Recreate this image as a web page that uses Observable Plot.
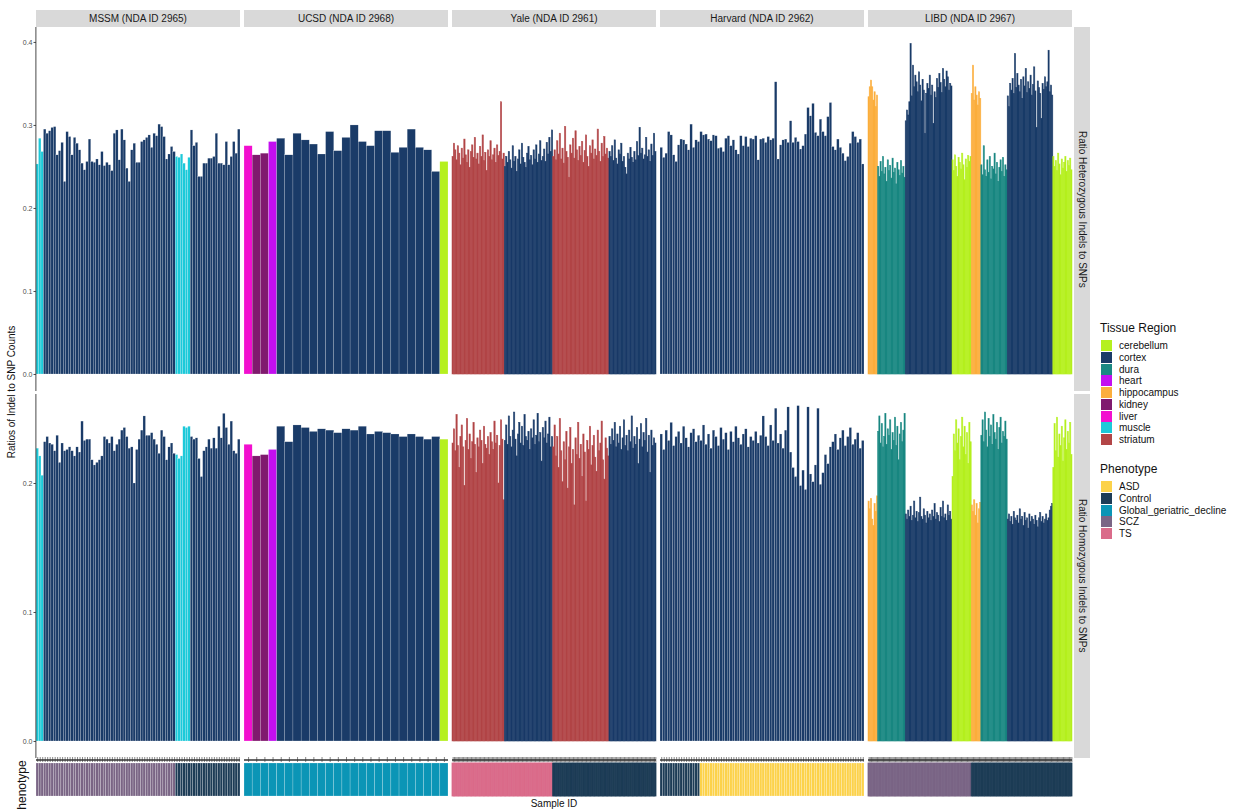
<!DOCTYPE html>
<html><head><meta charset="utf-8">
<script src="https://cdn.jsdelivr.net/npm/d3@7"></script>
<script src="https://cdn.jsdelivr.net/npm/@observablehq/plot@0.6"></script>
<style>
body{margin:0;background:#fff;font-family:"Liberation Sans",Arial,sans-serif;}
#wrap{position:relative;width:1238px;height:809px;overflow:hidden;background:#fff;}
.abs{position:absolute;}
.strip{position:absolute;background:#d9d9d9;color:#1a1a1a;font-size:10px;display:flex;align-items:center;justify-content:center;white-space:nowrap;}
.vstrip{writing-mode:vertical-rl;}
.ltitle{position:absolute;font-size:12px;color:#111;white-space:nowrap;}
.lkey{position:absolute;width:11px;height:11px;}
.llab{position:absolute;font-size:10px;color:#111;white-space:nowrap;line-height:11px;}
</style></head><body><div id="wrap"></div><script>
const sites = ["MSSM (NDA ID 2965)","UCSD (NDA ID 2968)","Yale (NDA ID 2961)","Harvard (NDA ID 2962)","LIBD (NDA ID 2967)"];
const tissues = ["cerebellum","cortex","dura","heart","hippocampus","kidney","liver","muscle","striatum"];
const tissueColors = ["#b5f01f","#1a3b68","#1a8883","#c30ff0","#fcae3d","#801a6e","#f20fcf","#1cc9d9","#b24547"];
const phenotypes = ["ASD","Control","Global_geriatric_decline","SCZ","TS"];
const phenoColors = ["#fcd24a","#1d3c56","#0b95b6","#7a6585","#da6b8a"];
const panelLabels = ["Ratio Heterozygous Indels to SNPs","Ratio Homozygous Indels to SNPs"];
const hetTicks = [0,0.1,0.2,0.3,0.4];
const homTicks = [0,0.1,0.2];

// MSSM
const mssmTissue = [["muscle",3],["cortex",53],["muscle",6],["cortex",20]];
const mssmPheno = [["SCZ",56],["Control",26]];
const mssmHet = [0.253,0.284,0.268,
0.295,0.290,0.293,0.297,0.298,0.264,0.269,0.279,0.232,0.292,0.286,0.264,0.285,0.278,0.270,0.254,0.246,0.256,0.283,0.256,0.255,0.259,0.252,0.268,0.251,0.255,0.252,0.245,0.290,0.294,0.258,0.295,0.282,0.248,0.232,0.270,0.278,0.255,0.255,0.280,0.282,0.285,0.288,0.273,0.290,0.287,0.301,0.298,0.286,0.259,0.265,0.274,0.268,
0.262,0.261,0.265,0.254,0.246,0.261,
0.294,0.275,0.279,0.238,0.238,0.254,0.254,0.260,0.260,0.262,0.290,0.254,0.254,0.252,0.280,0.252,0.262,0.280,0.266,0.295];
const mssmHom = [0.227,0.221,0.206,
0.232,0.236,0.231,0.230,0.225,0.237,0.216,0.231,0.225,0.226,0.228,0.225,0.221,0.228,0.224,0.248,0.233,0.234,0.234,0.218,0.214,0.216,0.218,0.221,0.236,0.234,0.231,0.236,0.225,0.230,0.234,0.241,0.243,0.236,0.227,0.228,0.200,0.226,0.234,0.241,0.252,0.237,0.237,0.239,0.234,0.230,0.223,0.241,0.236,0.218,0.228,0.231,0.223,
0.222,0.219,0.221,0.244,0.243,0.244,
0.236,0.234,0.235,0.219,0.205,0.225,0.228,0.234,0.227,0.235,0.227,0.244,0.235,0.254,0.243,0.230,0.248,0.225,0.223,0.234];

// UCSD
const ucsdTissue = [["liver",1],["kidney",2],["heart",1],["cortex",20],["cerebellum",1]];
const ucsdPheno = [["Global_geriatric_decline",25]];
const ucsdHet = [0.275,0.264,0.266,0.280,0.284,0.264,0.290,0.282,0.277,0.265,0.292,0.269,0.285,0.300,0.280,0.275,0.293,0.293,0.267,0.273,0.295,0.273,0.270,0.244,0.256];
const ucsdHom = [0.230,0.221,0.222,0.226,0.244,0.232,0.245,0.243,0.240,0.242,0.241,0.239,0.242,0.241,0.244,0.238,0.240,0.239,0.238,0.236,0.238,0.236,0.234,0.236,0.234];

// Yale
const yaleTissue = [["striatum",40],["cortex",37],["striatum",43],["cortex",36]];
const yalePheno = [["TS",77],["Control",79]];
const yaleHet = [
0.262,0.278,0.270,0.258,0.275,0.266,0.252,0.272,0.260,0.283,0.264,0.255,0.270,0.249,0.268,0.276,0.261,0.285,0.259,0.266,0.253,0.274,0.262,0.288,0.257,0.267,0.245,0.270,0.262,0.281,0.258,0.264,0.272,0.255,0.276,0.263,0.268,0.328,0.259,0.266,
0.250,0.262,0.255,0.268,0.258,0.248,0.275,0.256,0.262,0.244,0.259,0.270,0.253,0.278,0.261,0.255,0.249,0.266,0.274,0.258,0.263,0.252,0.270,0.259,0.276,0.255,0.265,0.281,0.257,0.262,0.271,0.256,0.279,0.265,0.285,0.268,0.294,
0.262,0.270,0.258,0.281,0.265,0.290,0.259,0.272,0.254,0.298,0.268,0.261,0.237,0.276,0.266,0.284,0.260,0.293,0.270,0.257,0.274,0.263,0.280,0.255,0.269,0.288,0.262,0.250,0.275,0.266,0.282,0.259,0.271,0.263,0.295,0.268,0.256,0.278,0.262,0.286,0.265,0.272,0.260,
0.268,0.262,0.275,0.257,0.282,0.260,0.253,0.270,0.265,0.278,0.256,0.262,0.249,0.241,0.266,0.259,0.273,0.261,0.255,0.268,0.258,0.280,0.263,0.297,0.266,0.272,0.259,0.264,0.285,0.262,0.270,0.256,0.277,0.263,0.290,0.268];
const yaleHom = [
0.231,0.242,0.225,0.253,0.229,0.212,0.236,0.245,0.228,0.198,0.233,0.250,0.226,0.238,0.219,0.232,0.247,0.230,0.208,0.235,0.228,0.241,0.233,0.215,0.244,0.230,0.227,0.236,0.222,0.239,0.232,0.226,0.248,0.231,0.237,0.200,0.229,0.249,0.234,0.187,
0.233,0.245,0.230,0.252,0.236,0.228,0.241,0.255,0.234,0.221,0.238,0.247,0.231,0.244,0.229,0.253,0.236,0.233,0.240,0.226,0.242,0.235,0.249,0.230,0.237,0.254,0.232,0.239,0.217,0.243,0.235,0.248,0.231,0.238,0.251,0.228,0.236,
0.228,0.245,0.221,0.236,0.212,0.250,0.225,0.201,0.232,0.218,0.240,0.196,0.228,0.243,0.215,0.226,0.183,0.235,0.222,0.247,0.219,0.230,0.205,0.238,0.224,0.186,0.233,0.226,0.244,0.214,0.229,0.237,0.220,0.209,0.241,0.225,0.231,0.248,0.218,0.203,0.235,0.227,0.221,
0.236,0.230,0.242,0.233,0.247,0.228,0.238,0.231,0.244,0.226,0.235,0.249,0.229,0.237,0.225,0.241,0.232,0.252,0.227,0.236,0.230,0.243,0.215,0.234,0.246,0.228,0.239,0.233,0.250,0.224,0.237,0.208,0.241,0.229,0.235,0.231];

// Harvard
const harvardTissue = [["cortex",82]];
const harvardPheno = [["Control",16],["ASD",66]];
const harvardHet = [0.273,0.261,0.266,0.292,0.288,0.264,0.256,0.276,0.283,0.282,0.277,0.270,
0.301,
0.273,0.282,0.280,0.292,0.288,0.289,0.283,0.281,0.288,0.287,0.272,0.273,0.268,0.284,0.287,0.275,0.282,0.270,0.265,0.287,0.275,0.286,0.274,0.284,0.283,0.287,0.258,0.283,0.284,0.279,0.286,0.282,0.284,
0.352,
0.259,0.276,0.282,0.283,0.279,
0.305,
0.279,0.285,0.280,0.271,0.275,0.289,
0.321,0.311,0.326,0.291,0.287,0.307,0.292,0.287,0.310,0.327,
0.274,0.270,0.283,0.273,0.266,0.257,0.262,0.278,0.292,0.286,0.279,0.283,0.253];
const harvardHom = [0.238,0.226,0.241,0.233,0.247,0.229,0.236,0.240,0.231,0.244,0.235,0.228,0.239,0.242,0.232,0.237,
0.233,0.245,0.230,0.238,0.227,0.241,0.236,0.229,0.243,0.234,0.239,0.226,0.240,0.232,0.244,0.235,0.230,0.238,0.242,0.228,0.236,0.233,0.240,0.231,0.237,
0.252,0.236,0.229,0.245,0.233,0.258,0.231,0.238,0.227,0.241,
0.259,0.224,0.212,0.205,0.260,0.198,0.210,0.195,0.259,0.207,0.201,0.214,0.258,0.199,0.208,0.222,0.215,0.228,
0.232,0.238,0.226,0.235,0.241,0.229,0.236,0.243,0.230,0.234,0.239,0.227,0.233];

// LIBD
const libdTissue = [["hippocampus",8],["dura",23],["cortex",39],["cerebellum",16],["hippocampus",8],["dura",22],["cortex",38],["cerebellum",16]];
const libdPheno = [["SCZ",86],["Control",84]];
const libdHet = [
0.334,0.346,0.354,0.346,0.330,0.340,0.322,0.336,
0.250,0.238,0.256,0.244,0.262,0.241,0.249,0.232,0.258,0.245,0.251,0.236,0.260,0.243,0.248,0.229,0.255,0.246,0.239,0.257,0.242,0.250,0.237,
0.305,0.318,0.312,0.328,0.398,0.335,0.372,0.346,0.360,0.352,0.340,0.364,0.348,0.329,0.355,0.342,0.290,0.338,0.350,0.344,0.360,0.336,0.348,0.302,0.340,0.333,0.356,0.345,0.362,0.351,0.339,0.368,0.355,0.346,0.365,0.358,0.342,0.350,0.347,
0.258,0.245,0.264,0.250,0.238,0.261,0.255,0.247,0.266,0.252,0.234,0.259,0.249,0.263,0.256,0.262,
0.338,0.372,0.330,0.346,0.336,0.324,0.340,0.332,
0.252,0.240,0.275,0.246,0.238,0.258,0.243,0.262,0.235,0.250,0.247,0.266,0.241,0.255,0.232,0.249,0.258,0.244,0.261,0.238,0.252,0.246,
0.335,0.322,0.350,0.342,0.356,0.338,0.386,0.345,0.362,0.348,0.340,0.355,0.332,0.358,0.347,0.368,0.339,0.352,0.344,0.360,0.336,0.349,0.370,0.341,0.297,0.353,0.345,0.338,0.308,0.350,0.343,0.358,0.346,0.352,0.390,0.340,0.348,0.336,
0.262,0.250,0.257,0.245,0.266,0.253,0.240,0.259,0.248,0.255,0.262,0.244,0.257,0.251,0.260,0.246];
const libdHom = [
0.186,0.180,0.188,0.172,0.167,0.184,0.178,0.190,
0.240,0.252,0.231,0.246,0.228,0.236,0.254,0.230,0.242,0.237,0.249,0.226,0.239,0.233,0.251,0.229,0.244,0.218,0.238,0.247,0.232,0.241,0.254,
0.176,0.172,0.179,0.174,0.182,0.171,0.175,0.186,0.173,0.178,0.170,0.177,0.189,0.174,0.172,0.180,0.175,0.169,0.178,0.173,0.176,0.171,0.179,0.174,0.184,0.172,0.177,0.175,0.170,0.181,0.174,0.186,0.173,0.176,0.171,0.183,0.175,0.178,0.172,
0.205,0.238,0.225,0.249,0.231,0.242,0.218,0.236,0.251,0.228,0.244,0.222,0.239,0.215,0.247,0.232,
0.183,0.178,0.187,0.175,0.184,0.169,0.180,0.185,
0.237,0.249,0.232,0.255,0.241,0.228,0.250,0.236,0.245,0.230,0.253,0.239,0.234,0.247,0.226,0.243,0.251,0.231,0.240,0.236,0.248,0.234,
0.172,0.176,0.170,0.174,0.168,0.178,0.173,0.171,0.175,0.169,0.180,0.172,0.174,0.167,0.177,0.171,0.173,0.165,0.176,0.170,0.174,0.172,0.168,0.175,0.171,0.166,0.173,0.177,0.170,0.174,0.169,0.172,0.176,0.171,0.173,0.179,0.182,0.184,
0.212,0.246,0.225,0.251,0.220,0.238,0.229,0.244,0.217,0.235,0.249,0.226,0.240,0.231,0.247,0.222];

const siteData = [
  [mssmTissue, mssmPheno, mssmHet, mssmHom],
  [ucsdTissue, ucsdPheno, ucsdHet, ucsdHom],
  [yaleTissue, yalePheno, yaleHet, yaleHom],
  [harvardTissue, harvardPheno, harvardHet, harvardHom],
  [libdTissue, libdPheno, libdHet, libdHom]
];

function expand(runs){ return runs.flatMap(([k,n]) => Array(n).fill(k)); }
const rows = [];
siteData.forEach(([t,p,het,hom], s) => {
  const tt = expand(t), pp = expand(p), n = het.length;
  if (tt.length!==n || pp.length!==n || hom.length!==n)
    throw new Error(`length mismatch ${sites[s]}: tissue ${tt.length} pheno ${pp.length} het ${n} hom ${hom.length}`);
  het.forEach((v,i) => rows.push({site: sites[s], x1: i/n, x2: (i+1)/n, xm: (i+0.5)/n, dense: n > 100, tissue: tt[i], pheno: pp[i], het: v, hom: hom[i]}));
});
const sparseRows = rows.filter(d => !d.dense);
const denseRows = rows.filter(d => d.dense);

const wrap = document.getElementById("wrap");
const FONT = "'Liberation Sans', Arial, sans-serif";
const PLOT_W = 1074, ML = 36, MR = 2, PANEL = 204, GAP = 4;

function common(height){
  return {
    width: PLOT_W, height, marginLeft: ML, marginRight: MR, marginTop: 0, marginBottom: 0,
    fx: {domain: sites, paddingInner: GAP/(PANEL+GAP), paddingOuter: 0, round: false, axis: null, label: null},
    x: {domain: [0,1], axis: null},
    style: {fontFamily: FONT, fontSize: "7px", color: "#4d4d4d", background: "transparent", overflow: "visible"}
  };
}
function place(el, top){ el.style.position = "absolute"; el.style.left = "0px"; el.style.top = top + "px"; wrap.appendChild(el); }

function barPlot(field, height, domain, ticks){
  return Plot.plot({
    ...common(height),
    y: {domain, ticks, tickFormat: ".1f", tickSize: 2.5, tickPadding: 1.5, label: null},
    color: {domain: tissues, range: tissueColors},
    marks: [
      Plot.rect(denseRows, {fx: "site", x1: "x1", x2: "x2", y1: 0, y2: field, fill: "tissue", stroke: "tissue", strokeWidth: 0.6, strokeOpacity: 0.85}),
      Plot.rect(sparseRows, {fx: "site", x1: "x1", x2: "x2", y1: 0, y2: field, fill: "tissue", stroke: "white", strokeWidth: 0.3, strokeOpacity: 0.6}),
      Plot.ruleX([{s: sites[0]}], {fx: "s", x: () => 0, stroke: "#333", strokeWidth: 0.9, dx: -0.6})
    ]
  });
}

place(barPlot("het", 364, [-0.0205, 0.418], hetTicks), 27);
place(barPlot("hom", 364, [-0.0132, 0.269], homTicks), 394);

const phenoPlot = Plot.plot({
  ...common(42),
  y: {domain: [0,1], axis: null},
  color: {domain: phenotypes, range: phenoColors},
  marks: [
    Plot.rect(denseRows, {fx: "site", x1: "x1", x2: "x2", y1: 0, y2: 1, insetTop: 7, insetBottom: 2, fill: "pheno", stroke: "pheno", strokeWidth: 0.8}),
    Plot.rect(sparseRows, {fx: "site", x1: "x1", x2: "x2", y1: 0, y2: 1, insetTop: 7, insetBottom: 2, fill: "pheno", stroke: "white", strokeWidth: 0.4, strokeOpacity: 0.5}),
    Plot.ruleY([1], {stroke: "#333", strokeWidth: 1.3, dy: 3.5}),
    Plot.ruleX(rows, {fx: "site", x: "xm", stroke: "#333", strokeWidth: 0.6, insetTop: 1, insetBottom: 36})
  ]
});
place(phenoPlot, 756);

// facet strips (top)
sites.forEach((s,k) => {
  const d = document.createElement("div");
  d.className = "strip";
  Object.assign(d.style, {left: (ML + k*(PANEL+GAP)) + "px", top: "10px", width: PANEL + "px", height: "17px"});
  d.textContent = s;
  wrap.appendChild(d);
});
// right strips
[[27,364],[394,364]].forEach(([top,h],k) => {
  const d = document.createElement("div");
  d.className = "strip vstrip";
  Object.assign(d.style, {left: "1074px", top: top + "px", width: "16px", height: h + "px"});
  d.textContent = panelLabels[k];
  wrap.appendChild(d);
});

function rotText(txt, cx, cy, size, color){
  const d = document.createElement("div");
  d.className = "abs";
  Object.assign(d.style, {left: cx + "px", top: cy + "px", fontSize: size + "px", color, whiteSpace: "nowrap",
    transform: "translate(-50%,-50%) rotate(-90deg)", lineHeight: "1"});
  d.textContent = txt;
  wrap.appendChild(d);
}
rotText("Ratios of Indel to SNP Counts", 12, 392, 10, "#111");
rotText("Phenotype", 22, 789, 12, "#111");

const xl = document.createElement("div");
xl.className = "abs";
Object.assign(xl.style, {left: "554px", top: "803px", transform: "translate(-50%,-50%)", fontSize: "10px", color: "#111", whiteSpace: "nowrap"});
xl.textContent = "Sample ID";
wrap.appendChild(xl);

// legends
function legend(title, keys, colors, titleTop, firstTop){
  const t = document.createElement("div");
  t.className = "ltitle"; t.style.left = "1100px"; t.style.top = titleTop + "px"; t.textContent = title;
  wrap.appendChild(t);
  keys.forEach((k,i) => {
    const y = firstTop + i*11.75;
    const sw = document.createElement("div");
    sw.className = "lkey"; Object.assign(sw.style, {left: "1101px", top: y + "px", background: colors[i]});
    wrap.appendChild(sw);
    const lb = document.createElement("div");
    lb.className = "llab"; Object.assign(lb.style, {left: "1119px", top: y + "px"});
    lb.textContent = k;
    wrap.appendChild(lb);
  });
}
legend("Tissue Region", tissues, tissueColors, 321, 340);
legend("Phenotype", phenotypes, phenoColors, 462, 481);
</script></body></html>
